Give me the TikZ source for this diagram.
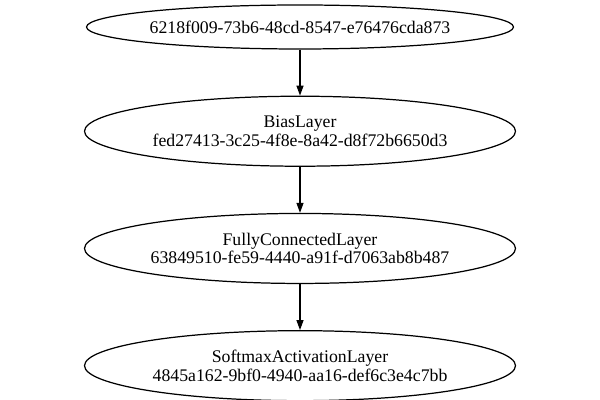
\documentclass[tikz,border=0pt]{standalone}
\usepackage{fontspec}
\setmainfont{Liberation Serif}
\usetikzlibrary{positioning,shapes.geometric,arrows.meta}
\begin{document}
\begin{tikzpicture}[
    layer/.style={draw, ellipse, line width=0.7pt, inner sep=0pt, align=center,
      minimum width=8.62cm, minimum height=1.4cm, font=\fontsize{10.1}{10.5}\selectfont},
    link/.style={-{Triangle[length=0.2cm,width=0.14cm]}, line width=0.7pt},
    node distance=0.92cm
  ]
  \useasboundingbox (0, 0) rectangle (12, 8);

  \node[layer, minimum width=8.54cm, minimum height=0.88cm] (input) at (6, 7.46) {6218f009-73b6-48cd-8547-e76476cda873};
  \node[layer, below=of input] (bias) {BiasLayer\\fed27413-3c25-4f8e-8a42-d8f72b6650d3};
  \node[layer, below=of bias] (fc) {FullyConnectedLayer\\63849510-fe59-4440-a91f-d7063ab8b487};
  \node[layer, below=of fc] (softmax) {SoftmaxActivationLayer\\4845a162-9bf0-4940-aa16-def6c3e4c7bb};

  \draw[link] (input) -- (bias);
  \draw[link] (bias) -- (fc);
  \draw[link] (fc) -- (softmax);
\end{tikzpicture}
\end{document}
